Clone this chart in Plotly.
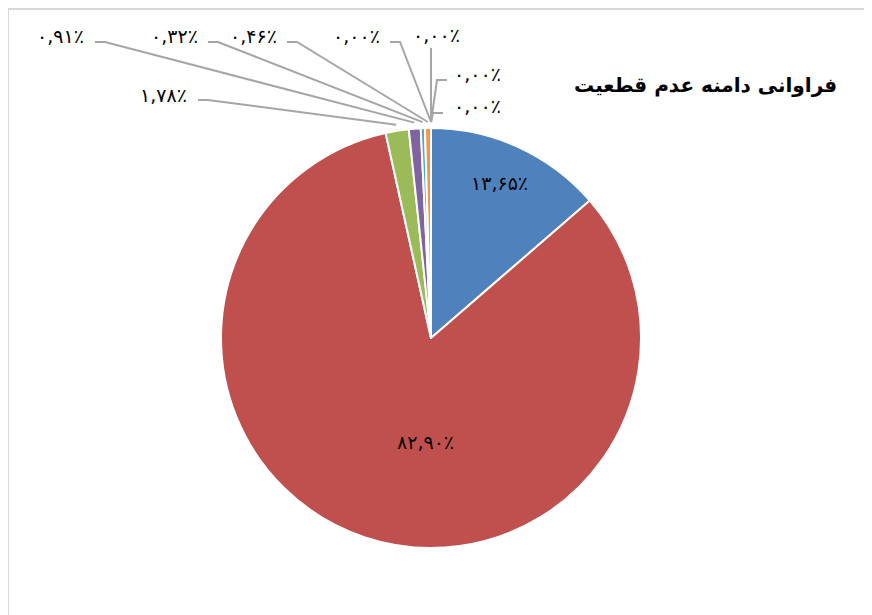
import math
import plotly.graph_objects as go

# ---- data ----
values = [13.65, 82.90, 1.78, 0.91, 0.32, 0.46, 0.00, 0.00, 0.00, 0.00]
colors = ["#4F81BD", "#C0504D", "#9BBB59", "#8064A2", "#4BACC6",
          "#F79646", "#2C4D75", "#772C2A", "#5F7530", "#4D3B62"]
chart_title = "فراوانی دامنه عدم قطعیت"

W, H = 872, 615
OFF = 8  # page body margin
CX, CY, R = 431, 338, 210


def fa(v):
    s = f"{v:.2f}".replace(".", ",")
    return s.translate(str.maketrans("0123456789", "۰۱۲۳۴۵۶۷۸۹")) + "٪"


def px(x):
    return (x - OFF) / W


def py(y):
    return 1 - (y - OFF) / H


fig = go.Figure()
fig.add_trace(go.Pie(
    values=values,
    marker=dict(colors=colors, line=dict(color="white", width=2)),
    sort=False, direction="clockwise", rotation=0,
    textinfo="none", hoverinfo="none", showlegend=False,
    domain=dict(x=[px(CX - R), px(CX + R)], y=[py(CY + R), py(CY - R)]),
))

# label layout per slice: (text x, text y, leader path start points)
label_layout = [
    (499, 183, None),                      # blue (inside)
    (425, 442, None),                      # red (inside)
    (163, 95, [(198, 100), (208, 100)]),   # green
    (60, 36, [(95, 42), (105, 42)]),
    (174, 36, [(208, 42), (218, 42)]),
    (253, 36, [(287, 42), (297, 42)]),
    (356, 36, [(390, 42), (400, 42)]),
    (436, 35, [(431, 48)]),
    (477, 74, [(447, 80), (437, 80)]),
    (477, 106, [(443, 113), (433, 113)]),
]

total = sum(values)
cum = 0.0
annotations = []
shapes = []
for v, (tx, ty, path) in zip(values, label_layout):
    mid = (cum + v / 2) / total * 2 * math.pi
    cum += v
    annotations.append(dict(
        x=px(tx), y=py(ty), xref="paper", yref="paper", text=fa(v),
        showarrow=False, xanchor="center", yanchor="middle",
        font=dict(family="DejaVu Sans", size=19, color="#000000"),
    ))
    if path:
        d = 6
        ex = CX + (R + d) * math.sin(mid)
        ey = CY - (R + d) * math.cos(mid)
        pts = path + [(ex, ey)]
        svg = "M " + " L ".join(f"{px(x):.5f},{py(y):.5f}" for x, y in pts)
        shapes.append(dict(type="path", path=svg, xref="paper", yref="paper",
                           line=dict(color="#A6A6A6", width=2)))

annotations.append(dict(
    x=px(705), y=py(85), xref="paper", yref="paper", text="<b>" + chart_title + "</b>",
    showarrow=False, xanchor="center", yanchor="middle",
    font=dict(family="DejaVu Sans", size=20, color="#000000"),
))

shapes.append(dict(type="rect", xref="paper", yref="paper",
                   x0=px(7.5), x1=px(W + 40), y0=py(H + 40), y1=py(8.5),
                   line=dict(color="#D9D9D9", width=3)))

fig.update_layout(
    width=W, height=H, margin=dict(l=0, r=0, t=0, b=0),
    paper_bgcolor="white", plot_bgcolor="white",
    annotations=annotations, shapes=shapes,
)

fig.write_html("out.html")
